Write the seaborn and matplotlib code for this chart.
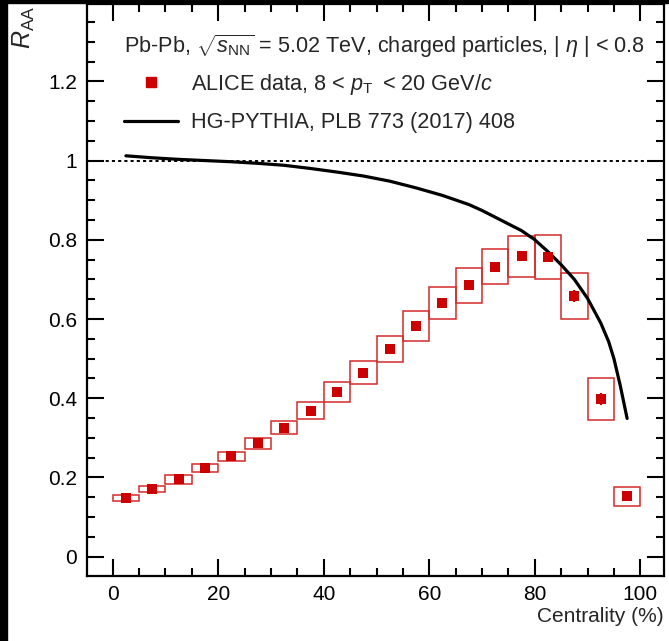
import numpy as np
import matplotlib
matplotlib.use("Agg")
import matplotlib.pyplot as plt
import seaborn as sns
from matplotlib.patches import Rectangle
from matplotlib.lines import Line2D
from matplotlib.ticker import MultipleLocator, FuncFormatter

# centrality bins (%), bin centres and half widths
centrality = [2.5, 7.5, 12.5, 17.5, 22.5, 27.5, 32.5, 37.5, 42.5, 47.5,
              52.5, 57.5, 62.5, 67.5, 72.5, 77.5, 82.5, 87.5, 92.5, 97.5]
bin_half = [2.5] * 20

# ALICE R_AA, 8 < pT < 20 GeV/c
raa = [0.148, 0.170, 0.195, 0.223, 0.253, 0.286, 0.326, 0.369, 0.415, 0.464,
       0.524, 0.582, 0.640, 0.685, 0.732, 0.758, 0.757, 0.658, 0.399, 0.152]
raa_stat = [0.002, 0.002, 0.002, 0.002, 0.002, 0.003, 0.003, 0.003, 0.004, 0.004,
            0.005, 0.005, 0.006, 0.006, 0.007, 0.008, 0.009, 0.014, 0.015, 0.012]
raa_syst = [0.0065, 0.0076, 0.0105, 0.0105, 0.011, 0.013, 0.016, 0.021, 0.025, 0.029,
            0.033, 0.037, 0.041, 0.045, 0.044, 0.052, 0.056, 0.058, 0.053, 0.025]

# HG-PYTHIA curve
hg_x = [2.5, 7.5, 12.5, 17.5, 22.5, 27.5, 32.5, 37.5, 42.5, 47.5,
        52.5, 57.5, 62.5, 67.5, 70.0, 72.5, 75.0, 77.5, 80.0, 82.5,
        85.0, 87.5, 90.0, 92.5, 94.0, 95.0, 96.2, 97.5]
hg_pythia = [1.012, 1.007, 1.003, 1.000, 0.997, 0.993, 0.988, 0.980, 0.971, 0.961,
             0.948, 0.931, 0.912, 0.889, 0.874, 0.857, 0.840, 0.823, 0.800, 0.770,
             0.737, 0.700, 0.652, 0.590, 0.543, 0.500, 0.432, 0.349]

red = "#cc0000"

sns.set_style("ticks")
plt.rcParams["font.family"] = ["Liberation Sans", "DejaVu Sans"]
plt.rcParams["mathtext.fontset"] = "custom"
plt.rcParams["mathtext.rm"] = "Liberation Sans"
plt.rcParams["mathtext.it"] = "Liberation Sans:italic"
plt.rcParams["mathtext.bf"] = "Liberation Sans:bold"

fig = plt.figure(figsize=(6.69, 6.41), dpi=100)
ax = fig.add_axes([0.1296, 0.1019, 0.8622, 0.8911])

# reference line at 1
ax.axhline(1.0, color="black", lw=1.4, ls=(0, (1.6, 1.6)), zorder=1)

# systematic boxes
for x, hw, y, s in zip(centrality, bin_half, raa, raa_syst):
    ax.add_patch(Rectangle((x - hw, y - s), 2 * hw, 2 * s, fill=False,
                           edgecolor="#d42a2a", lw=1.1, zorder=2))

# model curve
sns.lineplot(x=hg_x, y=hg_pythia, color="black", lw=2.3, ax=ax,
             zorder=3, sort=False)

# data
ax.errorbar(centrality, raa, yerr=raa_stat, fmt="none", ecolor=red,
            elinewidth=1.6, capsize=0, zorder=4)
sns.scatterplot(x=centrality, y=raa, marker="s", color=red, s=44,
                linewidth=0, ax=ax, zorder=5)

ax.set_xlim(-4.93, 104.4)
ax.set_ylim(-0.048, 1.394)

ax.xaxis.set_major_locator(MultipleLocator(20))
ax.xaxis.set_minor_locator(MultipleLocator(5))
ax.yaxis.set_major_locator(MultipleLocator(0.2))
ax.yaxis.set_minor_locator(MultipleLocator(0.05))
ax.yaxis.set_major_formatter(FuncFormatter(lambda v, p: f"{v:g}"))

ax.tick_params(which="both", direction="in", top=True, right=True,
               width=1.5, labelsize=15, colors="black")
ax.tick_params(which="major", length=12)
ax.tick_params(which="minor", length=6)
ax.tick_params(axis="x", pad=7)
ax.tick_params(axis="y", pad=7)
for sp in ax.spines.values():
    sp.set_linewidth(1.6)
    sp.set_color("black")

ax.set_xlabel("")
ax.set_ylabel("")
ax.text(1.0, -0.072, "Centrality (%)", transform=ax.transAxes,
        ha="right", va="center", fontsize=15)
ax.text(-0.109, 0.998, r"$R_{\rm AA}$", transform=ax.transAxes, rotation=90,
        ha="center", va="top", fontsize=18)

# legend
handles = [Line2D([], [], marker="s", color=red, ls="none", markersize=6.6),
           Line2D([], [], color="black", lw=2.3)]
labels = [r"ALICE data, 8 < $p_{\rm T}\;\;$< 20 GeV/$c$",
          "HG-PYTHIA, PLB 773 (2017) 408"]
leg = ax.legend(handles, labels,
                title=r"Pb-Pb, $\sqrt{s_{\rm NN}}$ = 5.02 TeV, charged particles, | $\eta$ | < 0.8",
                loc="upper left", bbox_to_anchor=(0.064, 0.951), frameon=False,
                fontsize=15.6, title_fontsize=15.6, handlelength=2.5,
                handletextpad=0.6, labelspacing=0.72, borderpad=0,
                borderaxespad=0, alignment="left")
leg._legend_box.sep = 8.3  # tighter gap between header and entries

# black strips along the left and top edges of the image
fig.patches.append(Rectangle((0, 0), 7 / 669, 1, transform=fig.transFigure,
                             color="black", zorder=0))
fig.patches.append(Rectangle((0, 1 - 3 / 641), 1, 3 / 641,
                             transform=fig.transFigure, color="black", zorder=0))

fig.savefig("out.png", dpi=100)
